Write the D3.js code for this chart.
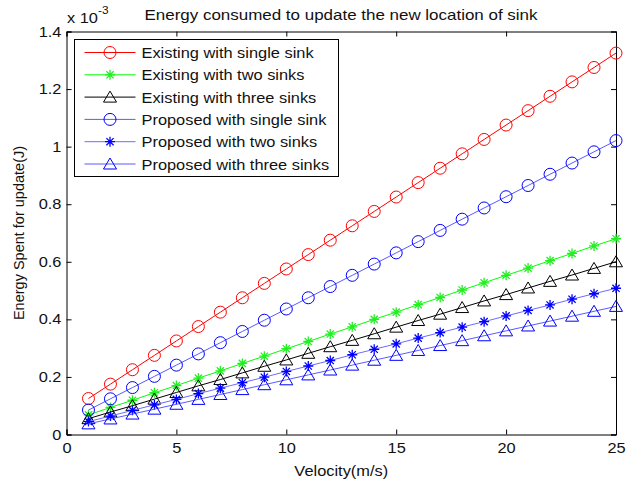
<!DOCTYPE html>
<html>
<head>
<meta charset="utf-8">
<script src="https://cdn.jsdelivr.net/npm/d3@7/dist/d3.min.js"></script>
<style>
  body { margin: 0; background: #fff; }
  svg text { font-family: "Liberation Sans", Arial, sans-serif; }
</style>
</head>
<body>
<div id="graph"></div>
<script>
(function(){
  "use strict";

  // data (values in units of 1e-3 J)
  var velocity = d3.range(1, 26);
  var existingSingle = [0.125,0.175,0.225,0.275,0.325,0.375,0.425,0.475,0.525,0.575,0.625,0.675,0.725,0.775,0.825,0.875,0.925,0.975,1.025,1.075,1.125,1.175,1.225,1.275,1.325];
  var existingTwo = [0.068,0.094,0.119,0.145,0.170,0.196,0.221,0.247,0.272,0.298,0.323,0.349,0.374,0.400,0.425,0.451,0.476,0.502,0.527,0.553,0.578,0.604,0.629,0.655,0.680];
  var existingThree = [0.055,0.078,0.100,0.123,0.146,0.169,0.191,0.214,0.237,0.259,0.282,0.305,0.327,0.350,0.373,0.396,0.418,0.441,0.464,0.486,0.509,0.532,0.554,0.577,0.600];
  var proposedSingle = [0.085,0.124,0.163,0.202,0.241,0.280,0.319,0.358,0.397,0.436,0.475,0.514,0.553,0.592,0.631,0.670,0.709,0.748,0.787,0.826,0.865,0.904,0.943,0.982,1.021];
  var proposedTwo = [0.045,0.064,0.084,0.103,0.122,0.142,0.161,0.180,0.199,0.219,0.238,0.257,0.277,0.296,0.315,0.335,0.354,0.373,0.392,0.412,0.431,0.450,0.470,0.489,0.508];
  var proposedThree = [0.037,0.054,0.071,0.088,0.105,0.122,0.139,0.156,0.173,0.190,0.207,0.224,0.241,0.258,0.275,0.292,0.309,0.326,0.343,0.360,0.377,0.394,0.411,0.428,0.445];

  var seriesNames = ["Existing with single sink","Existing with two sinks","Existing with three sinks",
                     "Proposed with single sink","Proposed with two sinks","Proposed with three sinks"];
  var seriesValues = [existingSingle, existingTwo, existingThree, proposedSingle, proposedTwo, proposedThree];
  var xTicks = [0, 5, 10, 15, 20, 25];
  var yTicks = [0, 0.2, 0.4, 0.6, 0.8, 1, 1.2, 1.4];

  // styles per series
  var lineColors = ["#ff0000", "#00ff00", "#000000", "#5a5aff", "#6c6cff", "#5a5aff"];
  var markColors = ["#ff0000", "#22ee22", "#000000", "#0000ff", "#0000ff", "#0000ff"];
  var markTypes = ["circle", "star", "triangle", "circle", "star", "triangle"];

  var width = 642, height = 481;
  var left = 66.5, right = 616, top = 31.5, bottom = 434.5;
  var fontSize = 14.5;
  var stretch = 1.13;   // the original text is a bit wider than Arial

  var svg = d3.select("#graph").append("svg")
      .attr("width", width)
      .attr("height", height);

  var xScale = d3.scaleLinear().domain([0, 25]).range([left, right]);
  var yScale = d3.scaleLinear().domain([0, 1.4]).range([bottom, top]);

  // axes, ticks pointing inward like matlab
  var fmtY = function(d){ return d === 0 ? "0" : d3.format("")(d); };
  var xAxis = d3.axisBottom(xScale).tickValues(xTicks).tickSize(-5).tickPadding(8);
  var xAxisTop = d3.axisTop(xScale).tickValues(xTicks).tickSize(-5).tickFormat("");
  var yAxis = d3.axisLeft(yScale).tickValues(yTicks).tickSize(-5).tickPadding(4.5).tickFormat(fmtY);
  var yAxisRight = d3.axisRight(yScale).tickValues(yTicks).tickSize(-5).tickFormat("");

  function styleAxis(g){
    g.select(".domain").attr("stroke", "#000").attr("stroke-width", 1);
    g.selectAll(".tick line").attr("stroke", "#000");
    g.selectAll(".tick text").attr("font-size", fontSize).attr("fill", "#111")
      .attr("font-family", "Liberation Sans, Arial, sans-serif")
      .attr("transform", "scale(" + stretch + ",1)");
  }

  // text helper, stretched horizontally around its anchor
  function addText(parent, x, y, str, anchor, sx){
    return parent.append("text")
      .attr("transform", "translate(" + x + "," + y + ")scale(" + (sx || stretch) + ",1)")
      .attr("text-anchor", anchor || "start")
      .attr("font-size", fontSize).attr("fill", "#111")
      .text(str);
  }

  svg.append("g").attr("transform", "translate(0," + bottom + ")").call(xAxis).call(styleAxis);
  svg.append("g").attr("transform", "translate(0," + top + ")").call(xAxisTop).call(styleAxis);
  svg.append("g").attr("transform", "translate(" + left + ",0)").call(yAxis).call(styleAxis);
  svg.append("g").attr("transform", "translate(" + right + ",0)").call(yAxisRight).call(styleAxis);

  // marker drawing
  function drawMarker(g, type, color){
    if (type === "circle") {
      g.append("circle").attr("r", 6).attr("fill", "none").attr("stroke", color).attr("stroke-width", 1);
    } else if (type === "triangle") {
      g.append("path").attr("d", "M0,-6L6.5,5L-6.5,5Z").attr("fill", "none").attr("stroke", color).attr("stroke-width", 1);
    } else {
      g.append("path")
        .attr("d", "M-5,0L5,0M0,-5L0,5M-3.6,-3.6L3.6,3.6M-3.6,3.6L3.6,-3.6")
        .attr("stroke", color).attr("stroke-width", 1.3);
    }
  }

  var line = d3.line()
      .x(function(d, i){ return xScale(velocity[i]); })
      .y(function(d){ return yScale(d); });

  seriesValues.forEach(function(vals, s){
    var grp = svg.append("g");
    grp.append("path")
       .attr("d", line(vals))
       .attr("fill", "none")
       .attr("stroke", lineColors[s])
       .attr("stroke-width", 1);
    vals.forEach(function(v, i){
      var m = grp.append("g")
        .attr("transform", "translate(" + xScale(velocity[i]) + "," + yScale(v) + ")");
      drawMarker(m, markTypes[s], markColors[s]);
    });
  });

  // legend
  var legend = svg.append("g").attr("transform", "translate(74.5,39.5)");
  legend.append("rect").attr("width", 264).attr("height", 137)
        .attr("fill", "#fff").attr("stroke", "#000").attr("stroke-width", 1);
  seriesNames.forEach(function(name, s){
    var yy = 13 + s * 22.3;
    legend.append("line").attr("x1", 10).attr("x2", 61).attr("y1", yy).attr("y2", yy)
          .attr("stroke", lineColors[s]).attr("stroke-width", 1);
    var m = legend.append("g").attr("transform", "translate(35.5," + yy + ")");
    drawMarker(m, markTypes[s], markColors[s]);
    addText(legend, 67, yy + 5.5, name);
  });

  // titles
  addText(svg, 341, 20, "Energy consumed to update the new location of sink", "middle", 1.17);

  var mult = addText(svg, 67, 23, "x 10");
  mult.append("tspan").attr("dy", -9).attr("font-size", 10.5).text("-3");

  svg.append("text")
     .attr("text-anchor", "middle")
     .attr("transform", "translate(24," + ((top + bottom) / 2) + ")rotate(-90)scale(1,1)")
     .attr("font-size", fontSize).attr("fill", "#111")
     .text("Energy Spent for update(J)");

  addText(svg, (left + right) / 2, 476, "Velocity(m/s)", "middle");
})();
</script>
</body>
</html>
